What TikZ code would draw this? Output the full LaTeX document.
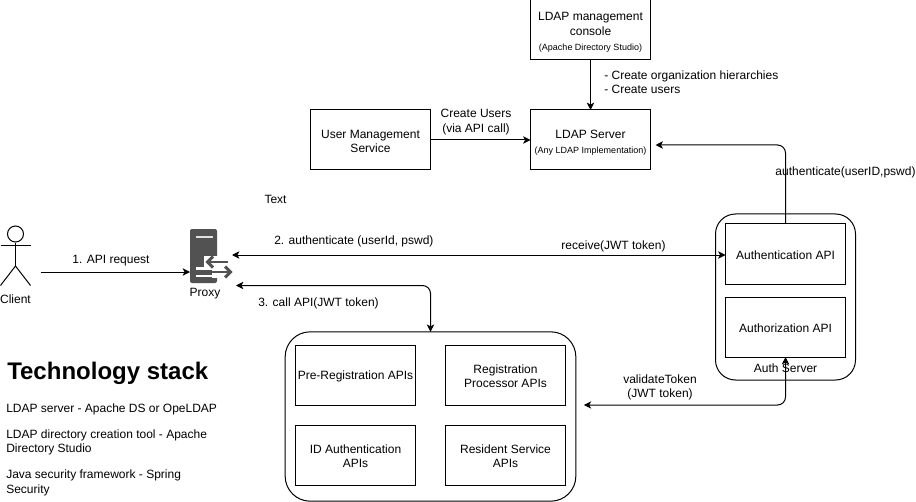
\documentclass[tikz,border=0pt]{standalone}
\usepackage{fontspec}
\setmainfont{Liberation Sans}
\usetikzlibrary{arrows.meta,positioning,calc}

\newcommand{\lowertxt}{\rule{0pt}{8.7pt}}

\begin{document}
\begin{tikzpicture}[
  x=0.75pt, y=-0.75pt,
  box/.style={rectangle, draw, line width=0.75pt, outer sep=0pt, align=center,
              font=\fontsize{9}{10.8}\selectfont,
              minimum width=90pt, minimum height=45pt, inner sep=0pt},
  rbox/.style={rectangle, draw, line width=0.75pt, outer sep=0pt, inner sep=0pt},
  lbl/.style={align=center, inner sep=0pt, font=\fontsize{9}{10.8}\selectfont},
  arr/.style={draw,-{Stealth[length=5.5pt,width=5.5pt,inset=1.4pt]},line width=0.75pt},
  darr/.style={draw,{Stealth[length=5.5pt,width=5.5pt,inset=1.4pt]}-{Stealth[length=5.5pt,width=5.5pt,inset=1.4pt]},line width=0.75pt},
  node distance=37.5pt
]
\useasboundingbox (0,0) rectangle (916,502);

% top row
\node[box] (console) at (590.5,30)
  {\rule{0pt}{9.5pt}LDAP management\\console\\[0.5pt]{\fontsize{6.75}{8.1}\selectfont (Apache Directory Studio)}};
\node[box, below=of console] (ldap)
  {\rule{0pt}{11pt}LDAP Server\\[0.5pt]{\fontsize{6.75}{8.1}\selectfont (Any LDAP Implementation)}};
\node[box, left=75pt of ldap] (usermgmt) {\lowertxt User Management\\Service};

% auth server
\node[rbox, rounded corners=15pt, minimum width=105pt, minimum height=124.5pt] (auth) at (785.5,297) {};
\node[box] (authn) at (785.5,254) {\lowertxt Authentication API};
\node[box, below=9.75pt of authn] (authz) {\lowertxt Authorization API};
\node[lbl] (authlbl) at (785.5,368) {Auth Server};

% api group
\node[rbox, rounded corners=18.75pt, minimum width=218pt, minimum height=127pt] (apis) at (430.5,416.5) {};
\node[box] (prereg) at (355.5,375) {\lowertxt Pre-Registration APIs};
\node[box, right=22.5pt of prereg] (regproc) {\lowertxt Registration\\Processor APIs};
\node[box, below=15pt of prereg] (idauth) {\lowertxt ID Authentication\\APIs};
\node[box, below=15pt of regproc] (resident) {\lowertxt Resident Service\\APIs};

% client
\coordinate (head) at (15.5,234);
\node[draw, circle, line width=0.75pt, minimum size=12pt, inner sep=0pt] (client) at (head) {};
\coordinate (hip) at (15.5,266);
\draw[line width=0.75pt] (client.south) -- (hip);
\draw[line width=0.75pt] (0.5,245) -- (30.5,245);
\draw[line width=0.75pt] (0.5,285.5) -- (hip) -- (30.5,285.5);
\node[lbl] (clientlbl) at (15.5,299.5) {Client};
\coordinate (clientout) at (40.5,272);

% proxy
\node[fill=black!68, rounded corners=1.5pt, minimum width=20.25pt, minimum height=40.5pt,
      inner sep=0pt, outer sep=0pt] (proxy) at (203.5,256) {};
\fill[white!88!black] (196,235.5) rectangle (213,238);
\fill[white] (218,256) -- (204,256) -- (204,266.5) -- (218,266.5) -- cycle;
\fill[white] (196,267) rectangle (212,269.5);
\fill[white] (196,274.5) rectangle (212,277);
\fill[white] (212,266.5) rectangle (218,278);
\draw[black!68, line width=2.2pt] (228,262) -- (208,262);
\draw[black!68, line width=2.2pt, line join=miter] (213,256.5) -- (207.5,262) -- (213,267.5);
\draw[black!68, line width=2.2pt] (196,272) -- (229,272);
\draw[black!68, line width=2.2pt, line join=miter] (225,266.5) -- (230.5,272) -- (225,277.5);
\node[lbl] (proxylbl) at (205,294) {Proxy};

% connectors
\draw[arr] (clientout) -- (proxy.west |- clientout);
\draw[arr] (console) -- (ldap);
\draw[arr] (usermgmt) -- (ldap);
\draw[arr, rounded corners=6pt] (authn.north) |- ($(ldap.east)+(5,5)$);
\draw[darr] (232,255) coordinate (proxyin) -- (proxyin -| authn.west);
\draw[darr, rounded corners=6pt] (236,285.5) coordinate (proxycall) -| (apis.north);
\draw[darr, rounded corners=6pt] (authz.south) |- ($(apis.east)+(8,-11.5)$);

% labels
\node[lbl] (reqlbl) at (111,260.5) {1. API request};
\node[lbl] (usrlbl) at (476,122) {Create Users\\(via API call)};
\node[lbl, align=left, anchor=west] (hierlbl) at (604,82.5) {- Create organization hierarchies\\- Create users};
\node[lbl] (textlbl) at (275.5,199) {Text};
\node[lbl] (authlnk) at (845.5,172) {authenticate(userID,pswd)};
\node[lbl, anchor=west] (step2lbl) at (274,241) {2. authenticate (userId, pswd)};
\node[lbl] (recvlbl) at (613.5,246.5) {receive(JWT token)};
\node[lbl, anchor=west] (step3lbl) at (258,303.5) {3. call API(JWT token)};
\node[lbl] (vallbl) at (660,387.5) {validateToken\\(JWT token)};

% technology stack
\node[inner sep=0pt, anchor=west, font=\fontsize{18}{21.6}\selectfont\bfseries] (stack) at (7,373) {Technology stack};
\node[lbl, align=left, anchor=north west] (stacktxt) at (6,403.5)
  {LDAP server - Apache DS or OpeLDAP\\[8.6pt]
   LDAP directory creation tool - Apache\\Directory Studio\\[8.6pt]
   Java security framework - Spring\\Security};
\end{tikzpicture}
\end{document}
